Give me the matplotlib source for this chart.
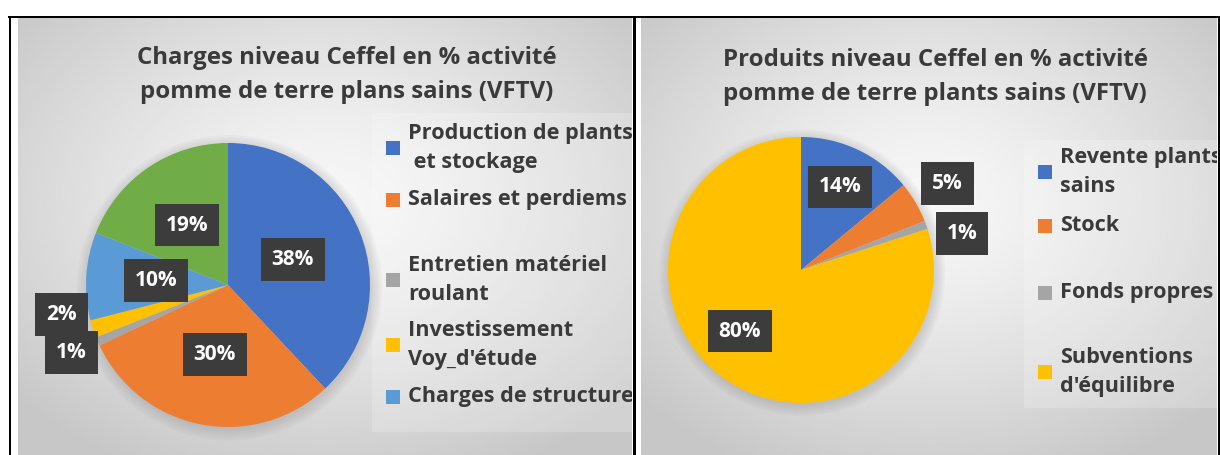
import numpy as np
import matplotlib

matplotlib.use("Agg")
import matplotlib.pyplot as plt
from matplotlib.patches import Circle, Rectangle

plt.rcParams["font.family"] = ["Open Sans", "DejaVu Sans"]

# --- data ---------------------------------------------------------------
charges_labels = [
    "Production de plants\n et stockage",
    "Salaires et perdiems",
    "Entretien matériel\nroulant",
    "Investissement\nVoy_d'étude",
    "Charges de structure",
    "Autres",
]
charges_pct = [38, 30, 1, 2, 10, 19]

produits_labels = [
    "Revente plants\nsains",
    "Stock",
    "Fonds propres",
    "Subventions\nd'équilibre",
]
produits_pct = [14, 5, 1, 80]

title_charges = "Charges niveau Ceffel en % activité\npomme de terre plans sains (VFTV)"
title_produits = "Produits niveau Ceffel en % activité\npomme de terre plants sains (VFTV)"

colors = ["#4472C4", "#ED7D31", "#A5A5A5", "#FFC000", "#5B9BD5", "#70AD47"]
TXT = "#3a3a3a"
W, H = 1220, 455


def px_axes(fig, x0, y0, x1, y1, **kw):
    """Axes placed by pixel box (y measured from the top)."""
    return fig.add_axes([x0 / W, (H - y1) / H, (x1 - x0) / W, (y1 - y0) / H], **kw)


def panel(fig, x0, x1, y0=18):
    ax = px_axes(fig, x0, y0, x1, H)
    ax.set_xlim(x0, x1)
    ax.set_ylim(H, y0)
    ax.axis("off")
    # radial grey gradient like the Office chart style
    gx, gy = np.meshgrid(np.linspace(-1, 1, 300), np.linspace(-1, 1, 220))
    d = np.clip(np.sqrt(gx ** 2 + (gy + 0.15) ** 2) / 1.35, 0, 1)
    img = 0.97 - 0.19 * d ** 1.3
    ax.imshow(img, cmap="gray", vmin=0, vmax=1, extent=(x0, x1, H, y0),
              aspect="auto", zorder=0)
    return ax


def legend_block(ax, labels, cols, x, ys, box):
    ax.add_patch(Rectangle((box[0], box[1]), box[2] - box[0], box[3] - box[1],
                           fc="white", ec="none", alpha=0.2, zorder=1))
    for lab, c, y in zip(labels, cols, ys):
        ax.add_patch(Rectangle((x, y - 7), 14, 14, fc=c, ec="none", zorder=2))
        ax.text(x + 22, y, lab, fontsize=15.6, fontweight="bold", color=TXT,
                va="center", ha="left", linespacing=1.5, zorder=3,
                clip_on=True, transform=ax.transData)


def pie(fig, cx, cy, r, values, cols, label_pos):
    ax = px_axes(fig, cx - r, cy - r, cx + r, cy + r)
    # soft halo behind the pie
    for k in range(6):
        ax.add_patch(Circle((0.01, -0.02), 1.0 + 0.015 * k, fc="#808080",
                            ec="none", alpha=0.05, zorder=0, clip_on=False))
    wedges, _ = ax.pie(values, colors=cols, startangle=90, counterclock=False,
                       radius=1, wedgeprops=dict(linewidth=0, zorder=1))
    ax.set_xlim(-1, 1)
    ax.set_ylim(-1, 1)
    for w, v, (dist, nudge) in zip(wedges, values, label_pos):
        t = np.deg2rad((w.theta1 + w.theta2) / 2 + nudge)
        ax.text(dist * np.cos(t), dist * np.sin(t), f"{v}%", ha="center",
                va="center", fontsize=15, fontweight="bold", color="white",
                bbox=dict(boxstyle="square,pad=0.52", fc="#3c3c3c", ec="none"),
                zorder=5)
    return ax


fig = plt.figure(figsize=(W / 100, H / 100), dpi=100)

# table borders
frame = fig.add_axes([0, 0, 1, 1])
frame.set_xlim(0, W)
frame.set_ylim(H, 0)
frame.axis("off")
lw = 2 * 72 / 100
frame.plot([9, W], [17, 17], color="black", lw=lw)
frame.plot([10, 10], [17, H], color="black", lw=lw)
frame.plot([633.5, 633.5], [17, H], color="black", lw=3 * 72 / 100)
frame.plot([1218.5, 1218.5], [17, H], color="black", lw=lw)

# left panel : charges
p1 = panel(fig, 18, 632)
p1.text(347, 75, title_charges, ha="center", va="center", fontsize=17.3,
        fontweight="bold", color=TXT, linespacing=1.6)
legend_block(p1, charges_labels[:5], colors[:5], 386,
             [133 + 15, 200, 280, 345, 397], (372, 113, 632, 432))
pie(fig, 228, 285, 142, charges_pct, colors,
    [(0.49, 0), (0.5, 0), (1.2, 0), (1.19, -8), (0.51, 0), (0.51, 0)])

# right panel : produits
p2 = panel(fig, 641, 1217)
p2.text(935, 77, title_produits, ha="center", va="center", fontsize=17.3,
        fontweight="bold", color=TXT, linespacing=1.6)
legend_block(p2, produits_labels, colors[:4], 1038,
             [172, 226, 293, 372], (1024, 140, 1217, 408))
pie(fig, 801, 270, 133, produits_pct, colors[:4],
    [(0.69, 0), (1.28, 0), (1.24, -7), (0.65, -9)])

fig.savefig("out.png", dpi=100, facecolor="white")
